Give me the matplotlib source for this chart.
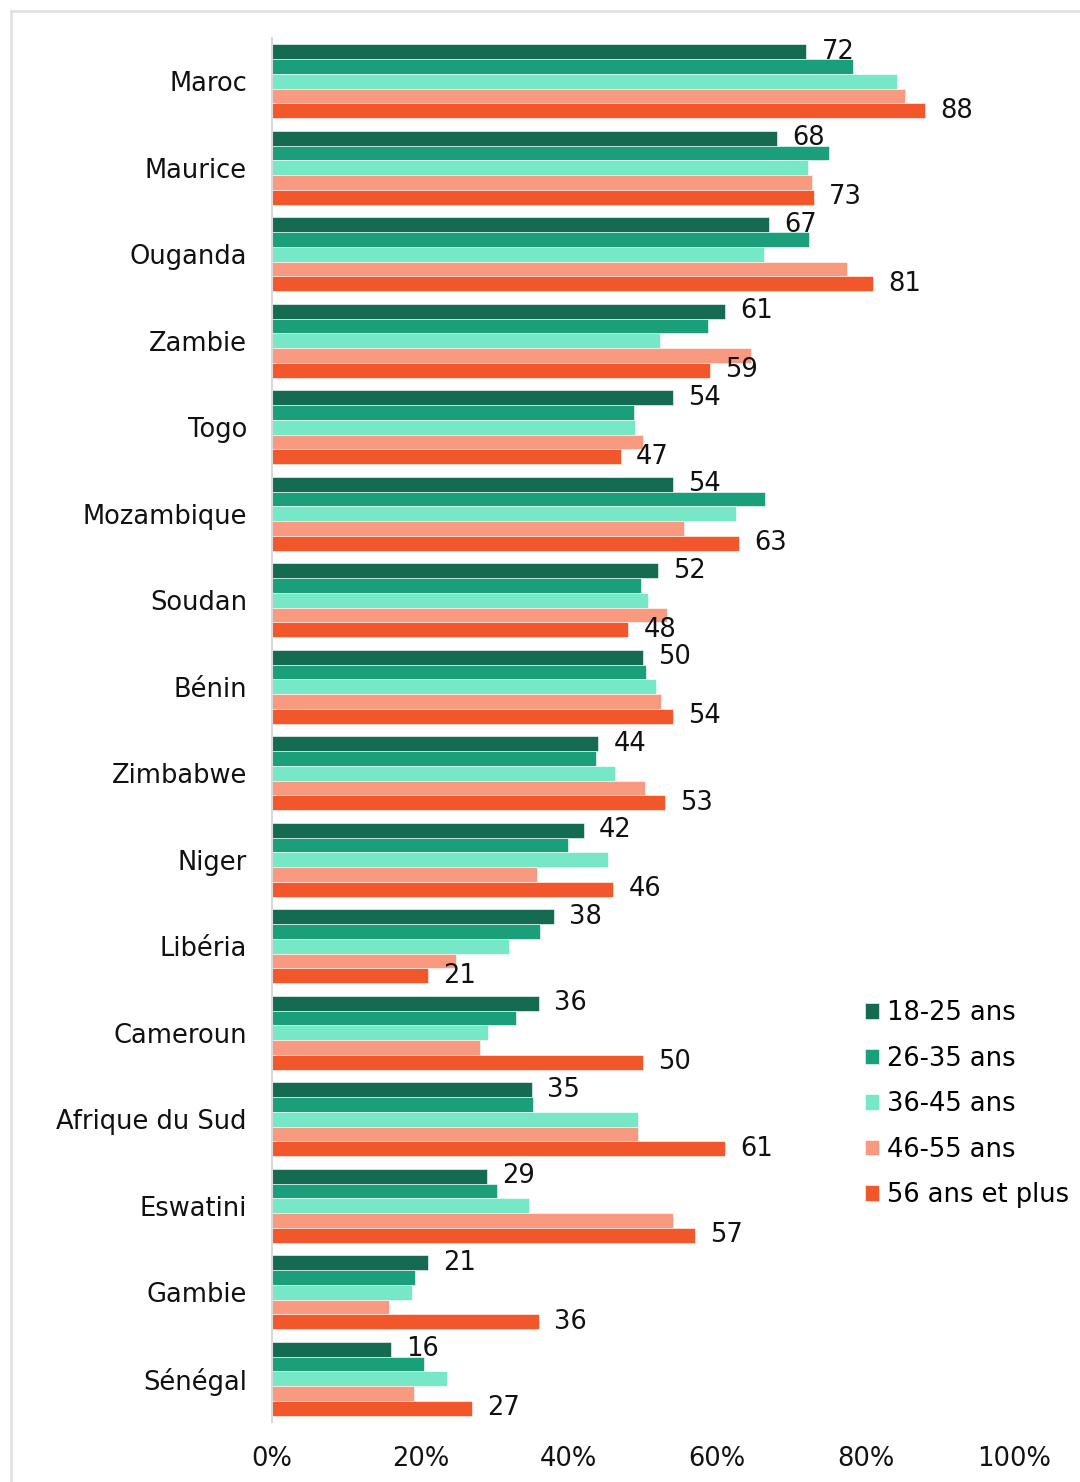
import matplotlib
matplotlib.use("Agg")
import matplotlib.pyplot as plt
from matplotlib.lines import Line2D
import numpy as np

countries = ["Maroc", "Maurice", "Ouganda", "Zambie", "Togo", "Mozambique", "Soudan",
             "Bénin", "Zimbabwe", "Niger", "Libéria", "Cameroun", "Afrique du Sud",
             "Eswatini", "Gambie", "Sénégal"]
series_names = ["18-25 ans", "26-35 ans", "36-45 ans", "46-55 ans", "56 ans et plus"]
v18_25 = [72, 68, 67, 61, 54, 54, 52, 50, 44, 42, 38, 36, 35, 29, 21, 16]
v26_35 = [78.3, 75, 72.4, 58.8, 48.8, 66.4, 49.7, 50.4, 43.7, 39.9, 36.1, 32.9, 35.2, 30.3, 19.3, 20.5]
v36_45 = [84.2, 72.2, 66.3, 52.3, 48.9, 62.5, 50.7, 51.8, 46.2, 45.3, 31.9, 29.1, 49.3, 34.6, 18.9, 23.6]
v46_55 = [85.3, 72.8, 77.5, 64.6, 50.0, 55.5, 53.2, 52.4, 50.3, 35.7, 24.8, 28.0, 49.3, 54.0, 15.8, 19.1]
v56p = [88, 73, 81, 59, 47, 63, 48, 54, 53, 46, 21, 50, 61, 57, 36, 27]
xticks = [0, 20, 40, 60, 80, 100]
xticklabels = ["0%", "20%", "40%", "60%", "80%", "100%"]

colors = ["#156A52", "#1B9E7A", "#76E8C8", "#F79A80", "#F2572B"]
all_series = [v18_25, v26_35, v36_45, v46_55, v56p]
labeled = [0, 4]
fs = 18.5

plt.rcParams['font.family'] = ['DejaVu Sans']
fig = plt.figure(figsize=(10.8, 14.82), dpi=100)
ax = fig.add_axes([272/1080, 1-1422/1482, (1014-272)/1080, (1422-38)/1482])

y = np.arange(len(countries))
h = 0.17
for j, (vals, c, name) in enumerate(zip(all_series, colors, series_names)):
    bars = ax.barh(y + (j - 2) * h, vals, height=h, color=c, edgecolor="white",
                   linewidth=0.4, label=name)
    if j in labeled:
        ax.bar_label(bars, labels=[f"{v:.0f}" for v in vals], padding=11,
                     fontsize=fs, color="#111111")

ax.set_ylim(len(countries) - 0.5, -0.5)
ax.set_xlim(0, 100)
ax.set_yticks(y)
ax.set_yticklabels(countries, fontsize=fs, color="#111111")
ax.set_xticks(xticks)
ax.set_xticklabels(xticklabels, fontsize=fs, color="#111111")
ax.tick_params(axis="y", length=0, pad=18)
ax.tick_params(axis="x", length=0, pad=17)
for s in ["top", "right", "bottom"]:
    ax.spines[s].set_visible(False)
ax.spines["left"].set_color("#d9d9d9")
ax.spines["left"].set_linewidth(1.5)

fig.legend(loc="upper left", bbox_to_anchor=(865/1080, 1-1000/1482), frameon=False,
           fontsize=fs, handlelength=0.55, handleheight=0.55, handletextpad=0.3,
           labelspacing=0.76, borderpad=0, borderaxespad=0)

# figure frame: only top and left edges visible
fig.add_artist(Line2D([11/1080, 11/1080], [0, 1-11/1482], transform=fig.transFigure,
                      color="#e0e0e0", linewidth=1.8))
fig.add_artist(Line2D([11/1080, 1], [1-11/1482, 1-11/1482], transform=fig.transFigure,
                      color="#e0e0e0", linewidth=1.8))

fig.savefig("out.png", dpi=100, facecolor="white")
